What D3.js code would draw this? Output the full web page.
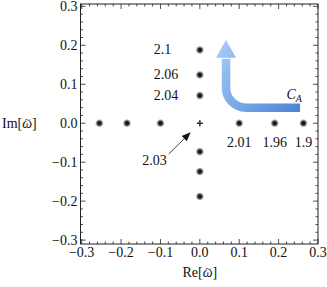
<!DOCTYPE html>
<html>
<head>
<meta charset="utf-8">
<script src="https://cdn.jsdelivr.net/npm/d3@7"></script>
<style>
  body { margin: 0; background: #fff; }
  svg text { font-family: 'Liberation Serif', 'Times New Roman', Times, 'DejaVu Serif', serif; fill: #111; }
</style>
</head>
<body>
<div id="chart"></div>
<script>
// poles on the real axis and on the imaginary axis
var realPoles = [-0.255, -0.185, -0.1, 0.1, 0.19, 0.263];
var imagPoles = [0.188, 0.124, 0.071, -0.073, -0.124, -0.188];
// labels attached to some poles
var realLabels = [{x: 0.1, t: '2.01'}, {x: 0.19, t: '1.96'}, {x: 0.263, t: '1.9'}];
var imagLabels = [{y: 0.188, t: '2.1'}, {y: 0.124, t: '2.06'}, {y: 0.071, t: '2.04'}];
var majorTicks = [-0.3, -0.2, -0.1, 0.0, 0.1, 0.2, 0.3];

var width = 327, height = 287;
var frameL = 80.5, frameR = 318, frameT = 4, frameB = 244;

var svg = d3.select('#chart').append('svg')
    .attr('width', width).attr('height', height);

var x = d3.scaleLinear().domain([-0.303, 0.3]).range([frameL, frameR]);
var y = d3.scaleLinear().domain([-0.31, 0.306]).range([frameB, frameT]);

var defs = svg.append('defs');
var dotGrad = defs.append('radialGradient').attr('id', 'dot');
dotGrad.append('stop').attr('offset', '0%').attr('stop-color', '#111');
dotGrad.append('stop').attr('offset', '40%').attr('stop-color', '#222');
dotGrad.append('stop').attr('offset', '70%').attr('stop-color', '#666').attr('stop-opacity', 0.6);
dotGrad.append('stop').attr('offset', '100%').attr('stop-color', '#bbb').attr('stop-opacity', 0);

var blue = defs.append('linearGradient').attr('id', 'blue')
    .attr('gradientUnits', 'userSpaceOnUse')
    .attr('x1', x(0.06)).attr('y1', y(0.2)).attr('x2', x(0.26)).attr('y2', y(0.04));
blue.append('stop').attr('offset', '0%').attr('stop-color', '#a2c8f6');
blue.append('stop').attr('offset', '100%').attr('stop-color', '#4a84d6');

// frame
svg.append('rect')
    .attr('x', frameL).attr('y', frameT)
    .attr('width', frameR - frameL).attr('height', frameB - frameT)
    .attr('fill', 'none').attr('stroke', '#222').attr('stroke-width', 1);

// ticks, inward on all four sides
var minorTicks = d3.range(-30, 31, 2).map(d => d / 100).filter(d => Math.round(d * 100) % 10 !== 0);
var g = svg.append('g').attr('stroke', '#222').attr('stroke-width', 0.8);
[{t: majorTicks, len: 5}, {t: minorTicks, len: 2.5}].forEach(function (set) {
    g.selectAll(null).data(set.t).enter().append('line')
        .attr('x1', d => x(d)).attr('x2', d => x(d))
        .attr('y1', frameB).attr('y2', frameB - set.len);
    g.selectAll(null).data(set.t).enter().append('line')
        .attr('x1', d => x(d)).attr('x2', d => x(d))
        .attr('y1', frameT).attr('y2', frameT + set.len);
    g.selectAll(null).data(set.t).enter().append('line')
        .attr('y1', d => y(d)).attr('y2', d => y(d))
        .attr('x1', frameL).attr('x2', frameL + set.len);
    g.selectAll(null).data(set.t).enter().append('line')
        .attr('y1', d => y(d)).attr('y2', d => y(d))
        .attr('x1', frameR).attr('x2', frameR - set.len);
});

var fmt = d => d3.format('.1f')(d).replace('-', '\u2212');
svg.selectAll('text.xt').data(majorTicks).enter().append('text')
    .attr('class', 'xt')
    .attr('x', d => x(d)).attr('y', frameB + 13)
    .attr('text-anchor', 'middle').style('font-size', '14px')
    .text(fmt);
svg.selectAll('text.yt').data(majorTicks).enter().append('text')
    .attr('class', 'yt')
    .attr('x', frameL - 3).attr('y', d => y(d) + 4.5)
    .attr('text-anchor', 'end').style('font-size', '14px')
    .text(fmt);

// axis titles, omega with a tilde drawn above it
function omegaTitle(sel, prefix) {
    sel.append('tspan').text(prefix + '[');
    sel.append('tspan').style('font-style', 'italic').text('\u03c9');
    sel.append('tspan').text(']');
}
var yt = svg.append('text').attr('x', 2).attr('y', y(0) + 4.5).style('font-size', '14px');
omegaTitle(yt, 'Im');
var xt = svg.append('text').attr('x', x(0)).attr('y', 277)
    .attr('text-anchor', 'middle').style('font-size', '14px');
omegaTitle(xt, 'Re');
[yt, xt].forEach(function (t) {
    var om = t.select('tspan:nth-child(2)').node();
    var n = om.getNumberOfChars();
    var ext = om.getExtentOfChar(0);
    svg.append('text')
        .attr('x', ext.x + ext.width / 2 + 0.5).attr('y', ext.y + 7)
        .attr('text-anchor', 'middle').style('font-size', '11px')
        .text('~');
});

// poles
svg.selectAll('circle.re').data(realPoles).enter().append('circle')
    .attr('class', 're')
    .attr('cx', d => x(d)).attr('cy', y(0)).attr('r', 4.5)
    .attr('fill', 'url(#dot)');
svg.selectAll('circle.im').data(imagPoles).enter().append('circle')
    .attr('class', 'im')
    .attr('cx', x(0)).attr('cy', d => y(d)).attr('r', 4.5)
    .attr('fill', 'url(#dot)');
// origin marker
svg.append('g').attr('stroke', '#333').attr('stroke-width', 1.6)
    .selectAll('line').data([[-3, 0, 3, 0], [0, -3, 0, 3]]).enter().append('line')
    .attr('x1', d => x(0) + d[0]).attr('y1', d => y(0) + d[1])
    .attr('x2', d => x(0) + d[2]).attr('y2', d => y(0) + d[3]);

// pole labels
svg.selectAll('text.rl').data(realLabels).enter().append('text')
    .attr('class', 'rl')
    .attr('x', d => x(d.x)).attr('y', y(0) + 24)
    .attr('text-anchor', 'middle').style('font-size', '14px')
    .text(d => d.t);
svg.selectAll('text.il').data(imagLabels).enter().append('text')
    .attr('class', 'il')
    .attr('x', x(0) - 46).attr('y', d => y(d.y) + 4.5)
    .style('font-size', '14px')
    .text(d => d.t);
svg.append('text')
    .attr('x', x(-0.115)).attr('y', y(-0.107))
    .attr('text-anchor', 'middle').style('font-size', '14px')
    .text('2.03');

// black pointer towards the origin
defs.append('marker').attr('id', 'head')
    .attr('viewBox', '0 0 10 10').attr('refX', 9).attr('refY', 5)
    .attr('markerWidth', 9).attr('markerHeight', 9)
    .attr('markerUnits', 'userSpaceOnUse').attr('orient', 'auto')
    .append('path').attr('d', 'M0,1 L10,5 L0,9 Z').attr('fill', '#111');
svg.append('line')
    .attr('x1', x(-0.079)).attr('y1', y(-0.079))
    .attr('x2', x(-0.025)).attr('y2', y(-0.025))
    .attr('stroke', '#111').attr('stroke-width', 0.8)
    .attr('marker-end', 'url(#head)');

// contour arrow C_A
var tail = [x(0.2545), y(0.0398)];
var shaftX = x(0.0665);
var base = y(0.168), tip = y(0.2135);
var rad = 20;
var p = d3.path();
p.moveTo(tail[0], tail[1]);
p.lineTo(shaftX + rad, tail[1]);
p.arcTo(shaftX, tail[1], shaftX, tail[1] - rad, rad);
p.lineTo(shaftX, base + 1);
svg.append('path').attr('d', p.toString())
    .attr('fill', 'none').attr('stroke', 'url(#blue)').attr('stroke-width', 8.5);
svg.append('path')
    .attr('d', 'M' + (shaftX - 10) + ',' + base + 'L' + (shaftX + 10) + ',' + base + 'L' + shaftX + ',' + tip + 'Z')
    .attr('fill', 'url(#blue)');

var ca = svg.append('text').attr('x', x(0.22)).attr('y', y(0.063))
    .style('font-size', '14px').style('font-style', 'italic');
ca.append('tspan').text('C');
ca.append('tspan').attr('dy', 3).style('font-size', '10px').text('A');
</script>
</body>
</html>
